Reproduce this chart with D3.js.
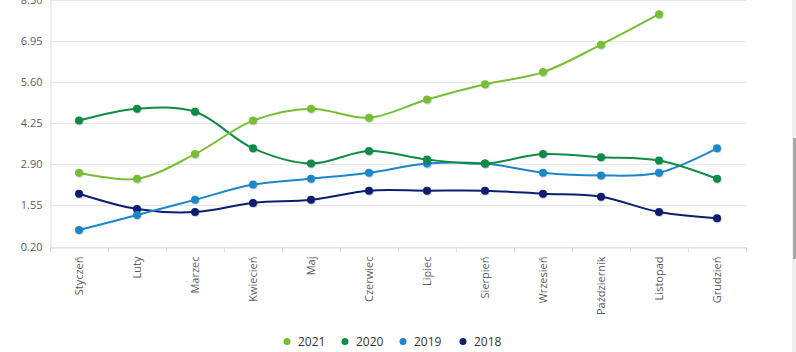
<!DOCTYPE html>
<html lang="pl">
<head>
  <meta charset="UTF-8">
  <title>Wykres miesięczny</title>
  <script src="https://d3js.org/d3.v7.min.js"></script>
  <style>
    html, body { margin: 0; padding: 0; background: #fff; overflow: hidden; }
    body { width: 796px; height: 352px; position: relative; }
    text { font-family: "Segoe UI", "Open Sans", "Noto Sans", sans-serif; }
    .grid line { stroke: #e8e8e8; stroke-width: 1; }
    .scrollbar { position: absolute; left: 792px; top: 0; width: 4px; height: 352px; background: #f0f0f0; }
    .thumb { position: absolute; left: 793px; top: 138px; width: 3px; height: 121px; background: #a8a8a8; }
  </style>
</head>
<body>
  <svg id="chart" width="796" height="352"></svg>
  <div class="scrollbar"></div>
  <div class="thumb"></div>
  <script>
    // dane
    const months = ["Styczeń", "Luty", "Marzec", "Kwiecień", "Maj", "Czerwiec",
                    "Lipiec", "Sierpień", "Wrzesień", "Październik", "Listopad", "Grudzień"];
    const yTicks = [0.20, 1.55, 2.90, 4.25, 5.60, 6.95, 8.30];

    const v2021 = [2.62, 2.42, 3.23, 4.33, 4.72, 4.42, 5.02, 5.52, 5.92, 6.82, 7.82, null];
    const v2020 = [4.33, 4.72, 4.62, 3.42, 2.92, 3.33, 3.05, 2.92, 3.23, 3.13, 3.02, 2.42];
    const v2019 = [0.74, 1.23, 1.73, 2.23, 2.42, 2.62, 2.92, 2.92, 2.62, 2.53, 2.62, 3.42];
    const v2018 = [1.93, 1.43, 1.33, 1.63, 1.73, 2.03, 2.03, 2.03, 1.93, 1.83, 1.33, 1.13];

    const series = [
      { name: "2021", color: "#78be34", values: v2021 },
      { name: "2020", color: "#0f8b47", values: v2020 },
      { name: "2019", color: "#1b86c8", values: v2019 },
      { name: "2018", color: "#0b1f70", values: v2018 }
    ];

    const plotLeft = 50, plotRight = 746, plotTop = -0.5, plotBottom = 246.5;

    const svg = d3.select("#chart");

    // cień markerów
    const defs = svg.append("defs");
    const f = defs.append("filter").attr("id", "shadow")
      .attr("x", "-50%").attr("y", "-50%").attr("width", "200%").attr("height", "200%");
    f.append("feDropShadow").attr("dx", 0.6).attr("dy", 0.8)
      .attr("stdDeviation", 0.7).attr("flood-color", "#000").attr("flood-opacity", 0.25);

    const x = d3.scaleBand().domain(months).range([plotLeft, plotRight]);
    const y = d3.scaleLinear().domain([0.20, 8.30]).range([plotBottom, plotTop]);

    // siatka
    svg.append("g").attr("class", "grid")
      .selectAll("line").data(yTicks).join("line")
      .attr("x1", plotLeft).attr("x2", plotRight)
      .attr("y1", d => Math.round(y(d)) + 0.5).attr("y2", d => Math.round(y(d)) + 0.5);

    // oś Y
    const yAxis = svg.append("g")
      .attr("transform", `translate(${plotLeft + 0.5},0)`)
      .call(d3.axisLeft(y).tickValues(yTicks).tickFormat(d3.format(".2f")).tickSize(0).tickPadding(8));
    yAxis.select(".domain").attr("stroke", "#e0e0e0");
    yAxis.selectAll("text").attr("fill", "#5c5c5c").attr("font-size", 11);

    // oś X
    const xAxis = svg.append("g")
      .attr("transform", `translate(0,${Math.round(plotBottom) + 0.5})`)
      .call(d3.axisBottom(x).tickSize(0).tickFormat(""));
    xAxis.select(".domain").attr("stroke", "#dcdcdc");
    xAxis.selectAll(".tick").remove();

    // znaczniki między kategoriami
    const bounds = months.map(m => x(m)).concat([plotRight]);
    svg.append("g").selectAll("line").data(bounds).join("line")
      .attr("x1", d => Math.round(d) + 0.5).attr("x2", d => Math.round(d) + 0.5)
      .attr("y1", Math.round(plotBottom)).attr("y2", Math.round(plotBottom) + 5)
      .attr("stroke", "#dcdcdc");

    // etykiety miesięcy
    svg.append("g").selectAll("text").data(months).join("text")
      .attr("transform", d => `translate(${x(d) + x.bandwidth() / 2 + 4},${plotBottom + 10}) rotate(-90)`)
      .attr("text-anchor", "end")
      .attr("font-size", 11)
      .attr("fill", "#5c5c5c")
      .text(d => d);

    // linie
    const line = d3.line()
      .defined(d => d != null)
      .x((d, i) => x(months[i]) + x.bandwidth() / 2)
      .y(d => y(d))
      .curve(d3.curveCatmullRom.alpha(0.5));

    const order = series.slice().reverse();
    order.forEach(s => {
      const g = svg.append("g");
      g.append("path")
        .datum(s.values)
        .attr("fill", "none")
        .attr("stroke", s.color)
        .attr("stroke-width", 2)
        .attr("d", line);
      g.selectAll("circle")
        .data(s.values.map((v, i) => ({ v, i })).filter(d => d.v != null))
        .join("circle")
        .attr("cx", d => x(months[d.i]) + x.bandwidth() / 2)
        .attr("cy", d => y(d.v))
        .attr("r", 4)
        .attr("fill", s.color)
        .attr("filter", "url(#shadow)");
    });

    // legenda
    const legendX = [287, 345, 403, 463];
    const legend = svg.append("g");
    series.forEach((s, i) => {
      legend.append("circle")
        .attr("cx", legendX[i]).attr("cy", 341.5).attr("r", 3.5)
        .attr("fill", s.color);
      legend.append("text")
        .attr("x", legendX[i] + 11).attr("y", 345.5)
        .attr("font-size", 12).attr("fill", "#333")
        .text(s.name);
    });
  </script>
</body>
</html>
